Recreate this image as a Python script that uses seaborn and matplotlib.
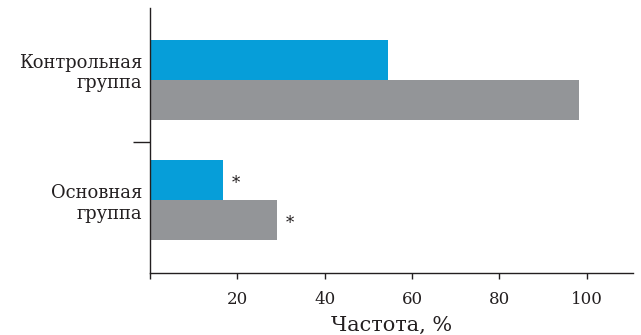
import matplotlib
matplotlib.use("Agg")
import matplotlib.pyplot as plt
import matplotlib.transforms as mtransforms
import seaborn as sns
import pandas as pd

groups = ["Контрольная\nгруппа", "Основная\nгруппа"]
series = ["A", "B"]
values_a = [54.5, 16.7]
values_b = [98.3, 29.1]
colors = ["#069ed9", "#939598"]
xticks = [0, 20, 40, 60, 80, 100]
xticklabels = ["", "20", "40", "60", "80", "100"]

df = pd.DataFrame({
    "group": groups * 2,
    "series": [series[0]] * 2 + [series[1]] * 2,
    "value": values_a + values_b,
})

sns.set_style("white")
plt.rcParams["font.family"] = ["DejaVu Serif"]
TXT = "#231f20"

fig = plt.figure(figsize=(6.41, 3.35), dpi=100)
ax = fig.add_axes([150 / 641, (335 - 273) / 335, (633 - 150) / 641, (273 - 8) / 335])

sns.barplot(data=df, y="group", x="value", hue="series", order=groups,
            hue_order=series, palette=colors, width=0.667, saturation=1,
            orient="h", ax=ax, legend=False, linewidth=0)

# significance markers
for i, (va, vb) in enumerate(zip(values_a, values_b)):
    if i == 1:
        ax.text(va + 3, i - 0.14, "*", ha="center", va="center", fontsize=12, color=TXT)
        ax.text(vb + 3, i + 0.195, "*", ha="center", va="center", fontsize=12, color=TXT)

ax.set_xlim(0, 110.6)
ax.set_ylim(1.608, -0.6)
ax.set_xticks(xticks)
ax.set_xticklabels(xticklabels, fontsize=12, color=TXT)
ax.set_yticks([0, 1])
ax.set_yticklabels(["", ""])
ax.set_yticks([0.52], minor=True)
ax.tick_params(axis="y", which="major", length=0)
ax.tick_params(axis="y", which="minor", length=12.5, width=1, color=TXT, direction="out", left=True)
ax.tick_params(axis="x", which="major", length=4, width=1, color=TXT, direction="out", bottom=True, pad=9)
ax.set_xlabel("Частота, %", fontsize=15, color=TXT, labelpad=6)
ax.set_ylabel("")

# group labels
trans = mtransforms.blended_transform_factory(ax.transAxes, ax.transData)
trans = trans + mtransforms.ScaledTranslation(-5.5 / 72, 0, fig.dpi_scale_trans)
label_offsets = [-0.058, 0.03]
for i, g in enumerate(groups):
    ax.text(0, i + label_offsets[i], g, transform=trans, ha="right", va="center",
            multialignment="right", fontsize=12.9, linespacing=1.18, color=TXT)

for s in ["top", "right"]:
    ax.spines[s].set_visible(False)
for s in ["left", "bottom"]:
    ax.spines[s].set_color(TXT)
    ax.spines[s].set_linewidth(1)

fig.savefig("out.png", dpi=100)
